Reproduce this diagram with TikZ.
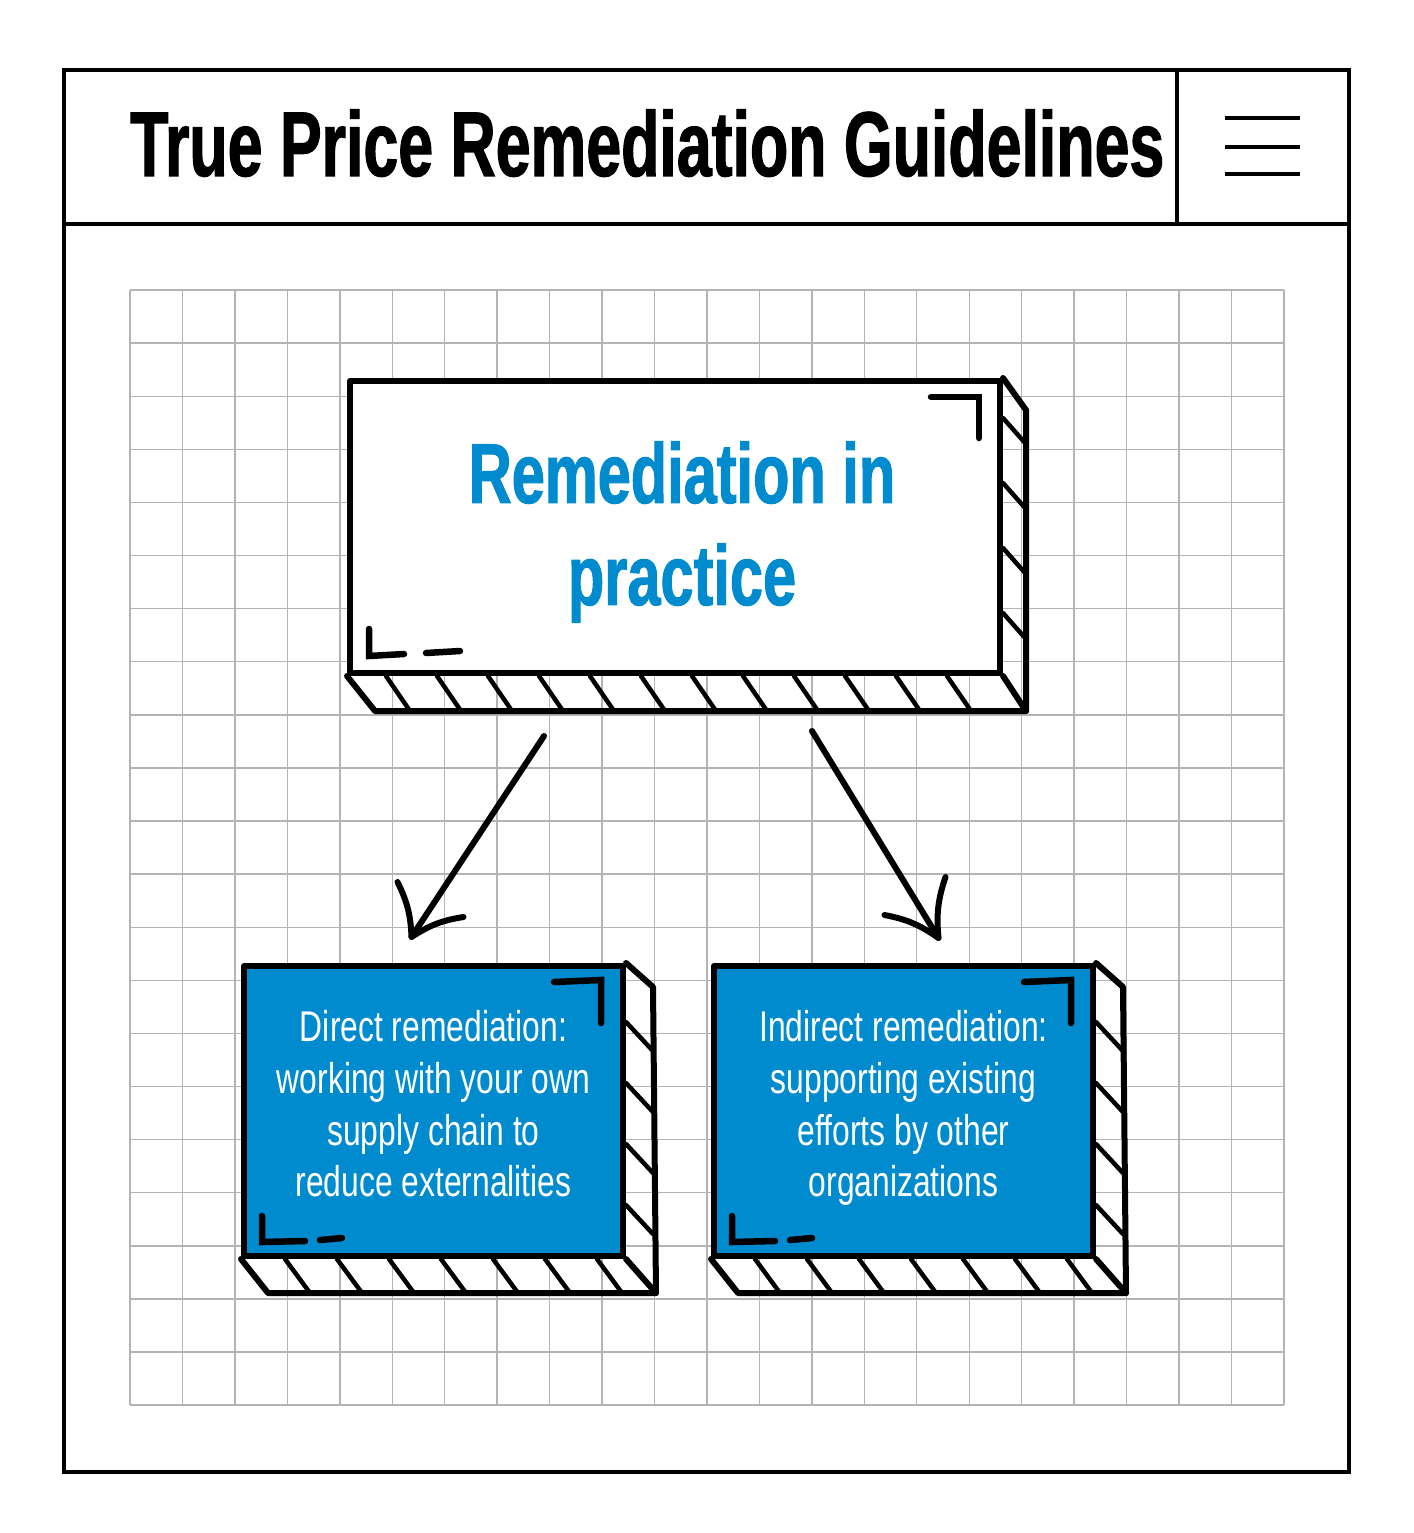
\documentclass[tikz,border=0pt]{standalone}
\usepackage{fontspec}
\setmainfont{Liberation Sans}
\newfontfamily\headfont[FakeStretch=0.681,FakeBold=1.2]{Liberation Sans}
\newfontfamily\boxheadfont[FakeStretch=0.70,FakeBold=1.2]{Liberation Sans}
\newfontfamily\bodyfont[FakeStretch=0.74]{Liberation Sans}
\usepackage{tikz}
\usetikzlibrary{positioning,calc}
\definecolor{tpblue}{HTML}{008BCE}
\definecolor{gridgray}{HTML}{B4B4B4}

\begin{document}
\begin{tikzpicture}[
	x=1pt, y=-1pt,
	frame/.style    = {line width=4pt},
	gridline/.style = {draw=gridgray, line width=1.4pt},
	sketch/.style   = {line width=6pt, line join=round, line cap=round},
	facebox/.style  = {draw, sketch, rectangle, inner sep=0pt, anchor=north west},
	mainface/.style = {facebox, fill=white, minimum width=650pt, minimum height=292pt},
	subface/.style  = {facebox, fill=tpblue, minimum width=379pt, minimum height=290pt, align=center, text=white, font=\bodyfont\fontsize{43}{51.7}\selectfont},
	maintext/.style = {align=center, text=tpblue, inner sep=0pt, font=\boxheadfont\bfseries\fontsize{85}{102}\selectfont},
	titletext/.style= {anchor=base west, inner sep=0pt, font=\headfont\bfseries\fontsize{92}{92}\selectfont},
	hatch/.style    = {line width=4.5pt, line cap=round},
	corner/.style   = {line width=6.5pt, line cap=round},
	arrowline/.style= {line width=6pt, line cap=round, line join=round}]
	
	\fill[white] (0,0) rectangle (1413,1533);
	\useasboundingbox (0,0) rectangle (1413,1533);
	
	% the page frame and its header
	\draw[frame] (64,70) rectangle (1349,1472);
	\draw[frame] (64,224) -- (1349,224);
	\draw[frame] (1177,70) -- (1177,224);
	\foreach \y in {118,147,174}
	\draw[frame] (1225,\y) -- (1300,\y);
	
	\node[titletext] (title) at (130,176) {True Price Remediation Guidelines};
	
	% squared paper
	\foreach \i in {0,...,22}
	\draw[gridline] ({130+\i*52.45},290) -- ({130+\i*52.45},1405);
	\foreach \j in {0,...,21}
	\draw[gridline] (130,{290+\j*53.1}) -- (1284,{290+\j*53.1});
	
	% the top box
	\node[mainface] (main) at (347,378) {};
	\node[maintext] (mainlabel) at ($(main.center)+(7,5)$) {Remediation in\\practice};
	
	\draw[sketch] (main.north east) -- ++(23,32) -- ($(main.south east)+(23,35)$) -- ($(main.south west)+(28,35)$) -- (main.south west);
	\draw[sketch] (main.south east) -- ++(23,35);
	\foreach \x in {39,90,...,640}
	\draw[hatch] ($(main.south west)+(\x,0)$) -- ++(24,35);
	\foreach \y in {40,105,170,235}
	\draw[hatch] ($(main.north east)+(0,\y)$) -- ++(23,26);
	
	\draw[corner] ($(main.north east)+(-72,19)$) -- ++(48,0) -- ++(0,41);
	\draw[corner] ($(main.south west)+(22,-47)$) -- ++(0,27) -- ++(35,-2);
	\draw[corner] ($(main.south west)+(79,-23)$) -- ++(34,-2);
	
	% the two lower boxes
	\node[subface] (direct) at (241,963) {Direct remediation:\\working with your own\\supply chain to\\reduce externalities\\[-37pt]};
	\node[subface] (indirect) at (711,963) {Indirect remediation:\\supporting existing\\efforts by other\\organizations\\[-37pt]};
	
	\foreach \b in {direct,indirect}{
		\draw[sketch] (\b.north east) -- ++(27,24) -- ($(\b.south east)+(30,34)$) -- ($(\b.south west)+(27,34)$) -- (\b.south west);
		\draw[sketch] (\b.south east) -- ++(30,34);
		\foreach \x in {44,96,...,360}
		\draw[hatch] ($(\b.south west)+(\x,0)$) -- ++(25,34);
		\foreach \y in {59,120,181,242}
		\draw[hatch] ($(\b.north east)+(0,\y)$) -- ++(27,29);
		\draw[corner] ($(\b.north east)+(-72,19)$) -- ++(47,-2) -- ++(0,43);
		\draw[corner] ($(\b.south west)+(21,-43)$) -- ++(0,26) -- ++(43,-1);
		\draw[corner] ($(\b.south west)+(79,-19)$) -- ++(22,-2);
	}
	
	% arrows from the top box to the lower ones
	\coordinate (s1) at ($(main.south)+(-131,60)$);
	\coordinate (t1) at ($(direct.north)+(-22,-26)$);
	\coordinate (s2) at ($(main.south)+(137,55)$);
	\coordinate (t2) at ($(indirect.north)+(35,-25)$);
	
	\draw[arrowline] (s1) -- (t1);
	\draw[arrowline] ($(t1)+(-14,-55)$) to[bend left=12] (t1) to[bend left=12] ($(t1)+(52,-20)$);
	\draw[arrowline] (s2) -- (t2);
	\draw[arrowline] ($(t2)+(7,-61)$) to[bend right=12] (t2) to[bend right=12] ($(t2)+(-54,-23)$);
	
\end{tikzpicture}
\end{document}
